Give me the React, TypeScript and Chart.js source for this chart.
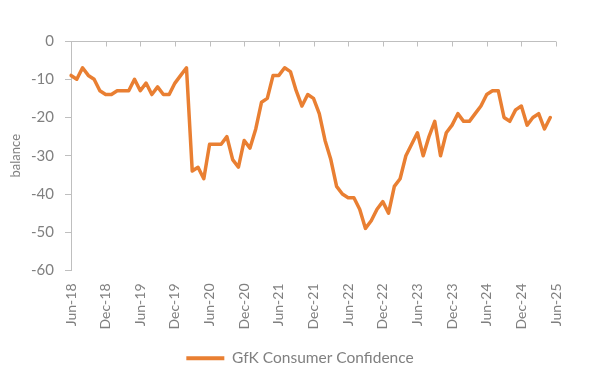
import { useEffect, useRef } from "react";
import { Chart, registerables } from "chart.js";

Chart.register(...registerables);

const categories = [
  "Jun-18", "Jul-18", "Aug-18", "Sep-18", "Oct-18", "Nov-18", "Dec-18",
  "Jan-19", "Feb-19", "Mar-19", "Apr-19", "May-19", "Jun-19", "Jul-19", "Aug-19", "Sep-19", "Oct-19", "Nov-19", "Dec-19",
  "Jan-20", "Feb-20", "Mar-20", "Apr-20", "May-20", "Jun-20", "Jul-20", "Aug-20", "Sep-20", "Oct-20", "Nov-20", "Dec-20",
  "Jan-21", "Feb-21", "Mar-21", "Apr-21", "May-21", "Jun-21", "Jul-21", "Aug-21", "Sep-21", "Oct-21", "Nov-21", "Dec-21",
  "Jan-22", "Feb-22", "Mar-22", "Apr-22", "May-22", "Jun-22", "Jul-22", "Aug-22", "Sep-22", "Oct-22", "Nov-22", "Dec-22",
  "Jan-23", "Feb-23", "Mar-23", "Apr-23", "May-23", "Jun-23", "Jul-23", "Aug-23", "Sep-23", "Oct-23", "Nov-23", "Dec-23",
  "Jan-24", "Feb-24", "Mar-24", "Apr-24", "May-24", "Jun-24", "Jul-24", "Aug-24", "Sep-24", "Oct-24", "Nov-24", "Dec-24",
  "Jan-25", "Feb-25", "Mar-25", "Apr-25", "May-25", "Jun-25",
];

const confidence: (number | null)[] = [
  -9, -10, -7, -9, -10, -13, -14,
  -14, -13, -13, -13, -10, -13, -11, -14, -12, -14, -14, -11,
  -9, -7, -34, -33, -36, -27, -27, -27, -25, -31, -33, -26,
  -28, -23, -16, -15, -9, -9, -7, -8, -13, -17, -14, -15,
  -19, -26, -31, -38, -40, -41, -41, -44, -49, -47, -44, -42,
  -45, -38, -36, -30, -27, -24, -30, -25, -21, -30, -24, -22,
  -19, -21, -21, -19, -17, -14, -13, -13, -20, -21, -18, -17,
  -22, -20, -19, -23, -20, null,
];

const seriesName = "GfK Consumer Confidence";
const yTitle = "balance";
const yTicks = [0, -10, -20, -30, -40, -50, -60];

const ORANGE = "#E97F32";
const AXIS = "#BFBFBF";
const TEXT = "#808080";
const FONT = "Lato, 'Open Sans', sans-serif";

export default function App() {
  const ref = useRef<HTMLCanvasElement>(null);

  useEffect(() => {
    if (!ref.current) return;
    const zeroAxis = {
      id: "zeroAxis",
      beforeDatasetsDraw(chart: any) {
        const { ctx, chartArea, scales } = chart;
        const y0 = Math.round(scales.y.getPixelForValue(0)) + 0.5;
        ctx.save();
        ctx.strokeStyle = AXIS;
        ctx.lineWidth = 1;
        ctx.beginPath();
        ctx.moveTo(chartArea.left, y0);
        ctx.lineTo(chartArea.right, y0);
        for (let i = 0; i < categories.length; i++) {
          if (i % 6 !== 0) continue;
          const x = Math.round(scales.x.getPixelForValue(i)) + 0.5;
          ctx.moveTo(x, y0);
          ctx.lineTo(x, y0 + 5);
        }
        ctx.stroke();
        ctx.restore();
      },
    };

    const chart = new Chart(ref.current, {
      type: "line",
      data: {
        labels: categories,
        datasets: [
          {
            label: seriesName,
            data: confidence,
            borderColor: ORANGE,
            backgroundColor: ORANGE,
            borderWidth: 3.5,
            pointRadius: 0,
            tension: 0,
            borderJoinStyle: "round",
            borderCapStyle: "round",
          },
        ],
      },
      options: {
        responsive: false,
        animation: false,
        devicePixelRatio: 1,
        layout: { padding: { top: 41, right: 0, bottom: 8, left: 0 } },
        plugins: {
          tooltip: { enabled: false },
          legend: {
            position: "bottom",
            labels: {
              color: TEXT,
              font: { family: FONT, size: 15.5 },
              boxWidth: 38,
              boxHeight: 4,
              padding: 10,
              generateLabels: (c: any) =>
                Chart.defaults.plugins.legend.labels.generateLabels(c).map((l: any) => ({
                  ...l,
                  lineWidth: 0,
                  strokeStyle: "rgba(0,0,0,0)",
                })),
            },
          },
        },
        scales: {
          x: {
            type: "category",
            offset: false,
            grid: { display: true, drawOnChartArea: false, drawTicks: false },
            border: { display: false },
            ticks: {
              autoSkip: false,
              minRotation: 90,
              maxRotation: 90,
              padding: 13,
              color: TEXT,
              font: { family: FONT, size: 14 },
              callback: (_v: any, i: number) => (i % 6 === 0 ? categories[i] : ""),
            },
            afterFit: (s: any) => {
              s.height = 70;
            },
          },
          y: {
            min: -60,
            max: 0,
            afterBuildTicks: (s: any) => {
              s.ticks = yTicks.map((v) => ({ value: v }));
            },
            grid: { display: true, drawOnChartArea: false, tickLength: 6, color: AXIS },
            border: { display: true, color: AXIS },
            ticks: {
              padding: 11,
              color: TEXT,
              font: { family: FONT, size: 15 },
            },
            title: {
              display: true,
              text: yTitle,
              color: TEXT,
              font: { family: FONT, size: 13 },
              padding: { top: 8, bottom: 0 },
            },
            afterFit: (s: any) => {
              s.width = 71;
            },
          },
          yRight: {
            position: "right",
            min: -60,
            max: 0,
            grid: { display: false },
            border: { display: false },
            ticks: { display: false },
            afterFit: (s: any) => {
              s.width = 44;
            },
          },
        },
      },
      plugins: [zeroAxis],
    });
    return () => chart.destroy();
  }, []);

  return (
    <div style={{ position: "fixed", left: 0, top: 0, width: 600, height: 384, background: "#fff" }}>
      <canvas ref={ref} width={600} height={384} style={{ display: "block" }} />
    </div>
  );
}
